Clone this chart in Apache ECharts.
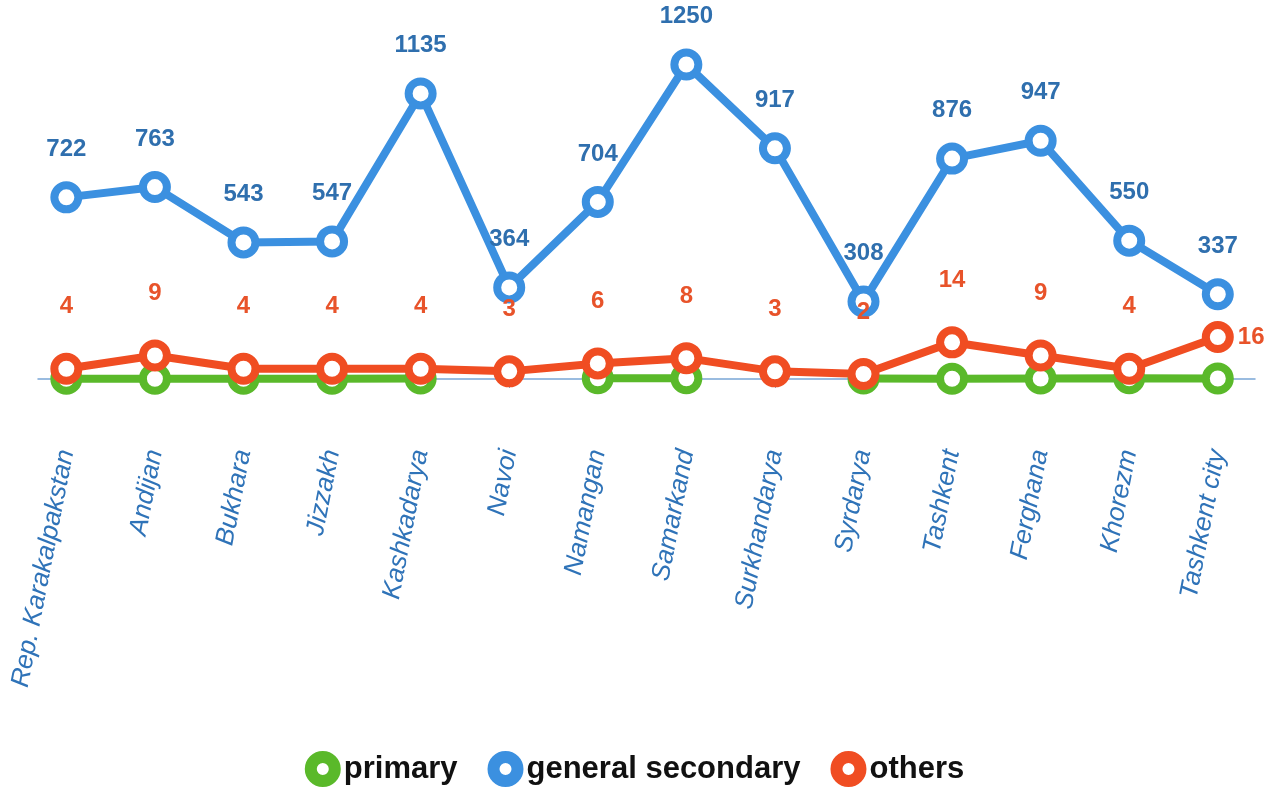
<!DOCTYPE html>
<html>
<head>
<meta charset="utf-8">
<script src="https://cdn.jsdelivr.net/npm/echarts@6/dist/echarts.min.js"></script>
<style>
  html, body { margin: 0; padding: 0; background: #fff; }
  #chart { width: 1269px; height: 788px; }
</style>
</head>
<body>
<div id="chart"></div>
<script>
const regions = ['Rep. Karakalpakstan', 'Andijan', 'Bukhara', 'Jizzakh', 'Kashkadarya', 'Navoi', 'Namangan',
  'Samarkand', 'Surkhandarya', 'Syrdarya', 'Tashkent', 'Ferghana', 'Khorezm', 'Tashkent city'];
const primary = [1, 1, 1, 1, 2, null, 3, 3, null, 2, 1, 2, 3, 2];
const generalSecondary = [722, 763, 543, 547, 1135, 364, 704, 1250, 917, 308, 876, 947, 550, 337];
const others = [4, 9, 4, 4, 4, 3, 6, 8, 3, 2, 14, 9, 4, 16];

const font = 'Liberation Sans';
const green = '#5ab92a', blue = '#3b90e0', red = '#f04d22';

// index -> [x, y] pairs so the x axis can be a value axis with a little padding at the ends
const toPairs = arr => arr.map((v, i) => [i, v == null ? '-' : v]);

const chart = echarts.init(document.getElementById('chart'));

const lineSeries = (name, color, data, yIdx, label) => ({
  name: name,
  type: 'line',
  yAxisIndex: yIdx,
  data: data,
  z: 3,
  symbol: 'circle',
  symbolSize: 24,
  connectNulls: false,
  lineStyle: { color: color, width: 8 },
  itemStyle: { color: '#fff', borderWidth: 8, borderColor: color },
  label: label,
  animation: false
});

const othersData = toPairs(others).map((p, i) => i === others.length - 1
  ? { value: p, label: { position: 'right', distance: 4 } } : p);

const labelFont = { fontFamily: font, fontSize: 24, fontWeight: 'bold' };

chart.setOption({
  backgroundColor: '#fff',
  grid: { left: 38, right: 14, top: 20, bottom: 348 },
  legend: {
    top: 746,
    left: 'center',
    icon: 'circle',
    itemWidth: 24,
    itemHeight: 24,
    itemGap: 30,
    itemStyle: { borderWidth: 12 },
    textStyle: { fontFamily: font, fontSize: 31, fontWeight: 'bold', color: '#111', padding: [0, 0, 0, 4] },
    data: ['primary', 'general secondary', 'others']
  },
  xAxis: {
    type: 'value',
    min: -0.32,
    max: 13.42,
    splitLine: { show: false },
    axisLine: { show: true, lineStyle: { color: '#7aa6d6', width: 1.5 } },
    axisTick: { show: true, customValues: regions.map((r, i) => i), length: 9, lineStyle: { color: '#7aa6d6' } },
    axisLabel: {
      customValues: regions.map((r, i) => i),
      formatter: v => regions[v],
      rotate: 79,
      margin: 10,
      fontFamily: font,
      fontSize: 26,
      fontStyle: 'italic',
      color: '#2f73b8'
    }
  },
  yAxis: [
    { type: 'value', min: -242.4, max: 1426.9, show: false, splitLine: { show: false } },
    { type: 'value', min: -23, max: 136.1, show: false, splitLine: { show: false } }
  ],
  series: [
    // primary value labels sit underneath the primary markers, as in the original
    {
      name: 'primary labels',
      type: 'line',
      data: toPairs(primary),
      z: 1,
      symbol: 'none',
      lineStyle: { opacity: 0 },
      label: Object.assign({ show: true, position: 'bottom', distance: -2, color: green }, labelFont),
      silent: true,
      animation: false
    },
    lineSeries('primary', green, toPairs(primary), 0, { show: false }),
    lineSeries('general secondary', blue, toPairs(generalSecondary), 0,
      Object.assign({ show: true, position: 'top', distance: 20, color: '#2f6fae' }, labelFont)),
    lineSeries('others', red, othersData, 1,
      Object.assign({ show: true, position: 'top', distance: 34, color: '#e8532a' }, labelFont))
  ]
});
</script>
</body>
</html>
